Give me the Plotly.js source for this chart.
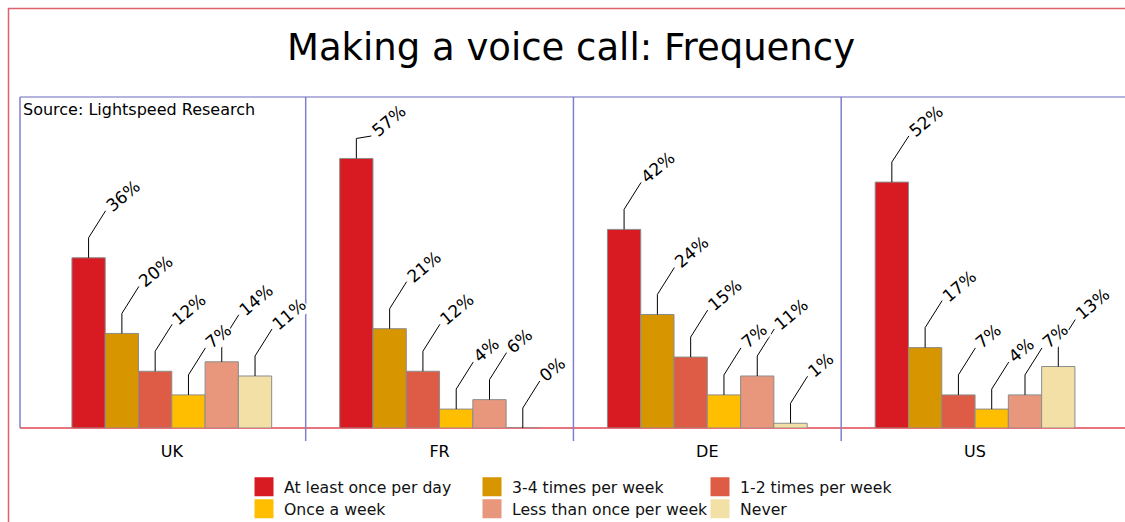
<!DOCTYPE html>
<html><head><meta charset="utf-8">
<script src="https://cdn.plot.ly/plotly-3.0.1.min.js"></script>
<style>html,body{margin:0;padding:0;background:#fff}</style>
</head><body><div id="chart" style="width:1125px;height:522px"></div>
<script>
// ---------------- data ----------------
const categories = ['UK', 'FR', 'DE', 'US'];
const seriesNames = ['At least once per day', '3-4 times per week', '1-2 times per week',
                     'Once a week', 'Less than once per week', 'Never'];
const atLeastDaily   = [36, 57, 42, 52];
const threeFourWeek  = [20, 21, 24, 17];
const oneTwoWeek     = [12, 12, 15, 7];
const onceWeek       = [7, 4, 7, 4];
const lessThanWeekly = [14, 6, 11, 7];
const never          = [11, 0, 1, 13];
const seriesColors = ['#D81B22', '#D79500', '#DE5C45', '#FFBF00', '#E8977C', '#F3E0A7'];
const chartTitle = 'Making a voice call: Frequency';
const sourceNote = 'Source: Lightspeed Research';

const seriesValues = [atLeastDaily, threeFourWeek, oneTwoWeek, onceWeek, lessThanWeekly, never];

// ---------------- geometry ----------------
const W = 1125, H = 522;
const M = {l: 20, r: 0, t: 97, b: 94};
const plotW = W - M.l - M.r, plotH = H - M.t - M.b;
const xRange = [-0.567, 3.56], yRange = [0, 70];
const bargap = 0.254;
const nS = seriesValues.length;
const barW = (1 - bargap) / nS;
const pxPerY = plotH / (yRange[1] - yRange[0]);
const FONT = '"DejaVu Sans", Verdana, sans-serif';
const LABEL_SIZE = 17;

const ctx = document.createElement('canvas').getContext('2d');
ctx.font = LABEL_SIZE + 'px "DejaVu Sans"';

const traces = [];
seriesValues.forEach((vals, s) => {
  traces.push({
    type: 'bar', name: seriesNames[s], x: categories.map((_, i) => i), y: vals,
    marker: {color: seriesColors[s], line: {color: '#8c8c8c', width: 1}},
    showlegend: false, hoverinfo: 'skip'
  });
});
// legend entries (square swatches)
seriesValues.forEach((vals, s) => {
  traces.push({
    type: 'scatter', mode: 'markers', name: seriesNames[s], x: [null], y: [null],
    marker: {symbol: 'square', size: 16, color: seriesColors[s], line: {color: seriesColors[s], width: 3}},
    legend: s < 3 ? 'legend' : 'legend2', showlegend: true, hoverinfo: 'skip'
  });
});

const shapes = [];
const annotations = [];
const ang = 40 * Math.PI / 180;
const ux = Math.cos(ang), uy = Math.sin(ang);     // text direction (y up)
const px_ = -Math.sin(ang), py_ = Math.cos(ang);  // text "up" direction
const vertLen = 20, diagDx = 17, diagDy = 27, minEndY = 136;

seriesValues.forEach((vals, s) => {
  const off = -(1 - bargap) / 2 + (s + 0.5) * barW;
  vals.forEach((v, i) => {
    const bx = i + off;
    const barTopPx = M.t + (yRange[1] - v) * pxPerY;
    const vertTop = barTopPx - vertLen;
    const endY = Math.max(vertTop - diagDy, minEndY);
    const dy = vertTop - endY;
    const dx = dy < 10 ? 15 : diagDx;
    shapes.push({type: 'line', xref: 'x', yref: 'y', xsizemode: 'pixel', ysizemode: 'pixel',
      xanchor: bx, yanchor: v, x0: 0, x1: 0, y0: 0, y1: vertLen, line: {color: '#000', width: 1}});
    shapes.push({type: 'line', xref: 'x', yref: 'y', xsizemode: 'pixel', ysizemode: 'pixel',
      xanchor: bx, yanchor: v, x0: 0, x1: dx, y0: vertLen, y1: vertLen + dy, line: {color: '#000', width: 1}});
    const txt = v + '%';
    const w = ctx.measureText(txt).width;
    annotations.push({
      xref: 'x', yref: 'y', x: bx, y: v, text: txt, showarrow: false, textangle: -40,
      xanchor: 'center', yanchor: 'middle',
      xshift: dx + ux * (w / 2 + 4) + px_ * 0.5,
      yshift: vertLen + dy + uy * (w / 2 + 4) + py_ * 0.5,
      font: {family: FONT, size: LABEL_SIZE, color: '#000'}, bgcolor: '#fff', borderpad: 0
    });
  });
});

// separators between categories
for (let i = 0; i < categories.length - 1; i++) {
  shapes.push({type: 'line', xref: 'x', yref: 'paper', x0: i + 0.5, x1: i + 0.5,
    y0: -13 / plotH, y1: 1, line: {color: '#7f7fcc', width: 1.5}, layer: 'above'});
}
// frame: top and left blue lines
shapes.push({type: 'line', xref: 'paper', yref: 'paper', x0: 0, x1: 1, y0: 1, y1: 1,
  line: {color: '#6a6abf', width: 1.2}});
shapes.push({type: 'line', xref: 'paper', yref: 'paper', x0: 0, x1: 0, y0: 0, y1: 1,
  line: {color: '#7f7fcc', width: 1.5}});
// outer border
shapes.push({type: 'rect', xref: 'paper', yref: 'paper',
  x0: (8.5 - M.l) / plotW, x1: 1.2, y0: -1, y1: (M.t + plotH - 8.5) / plotH,
  line: {color: '#E0606A', width: 1.5}, fillcolor: 'rgba(0,0,0,0)'});

annotations.push({xref: 'paper', yref: 'paper', x: 0, y: 1, xanchor: 'left', yanchor: 'top',
  xshift: 1, yshift: -1, text: sourceNote, showarrow: false,
  font: {family: FONT, size: 16, color: '#000'}});

const legendCommon = {orientation: 'h', xanchor: 'left', yanchor: 'middle',
  xref: 'container', yref: 'container',
  font: {family: FONT, size: 15.7, color: '#111'}, bgcolor: 'rgba(0,0,0,0)',
  entrywidth: 183, entrywidthmode: 'pixels', itemsizing: 'trace', itemclick: false, itemdoubleclick: false};

const layout = {
  width: W, height: H, margin: M,
  paper_bgcolor: '#fff', plot_bgcolor: '#fff',
  title: {text: chartTitle, x: 571 / W, xanchor: 'center', y: 1 - 47 / H, yanchor: 'middle',
    font: {family: FONT, size: 37, color: '#000'}},
  barmode: 'group', bargap: bargap, bargroupgap: 0,
  xaxis: {type: 'linear', range: xRange, tickvals: categories.map((_, i) => i), ticktext: categories,
    showgrid: false, zeroline: false, showline: false, ticks: '', ticklabelstandoff: 12,
    tickfont: {family: FONT, size: 16, color: '#000'}, fixedrange: true, automargin: false},
  yaxis: {range: yRange, showgrid: false, zeroline: true, zerolinecolor: '#E8747E', zerolinewidth: 2,
    showticklabels: false, ticks: '', showline: false, fixedrange: true, automargin: false},
  legend: Object.assign({}, legendCommon, {x: 244 / W, y: 1 - 487 / H}),
  legend2: Object.assign({}, legendCommon, {x: 244 / W, y: 1 - 509 / H}),
  shapes: shapes,
  annotations: annotations,
  showlegend: true
};

Plotly.newPlot('chart', traces, layout, {staticPlot: true, displayModeBar: false});
</script>
</body></html>
